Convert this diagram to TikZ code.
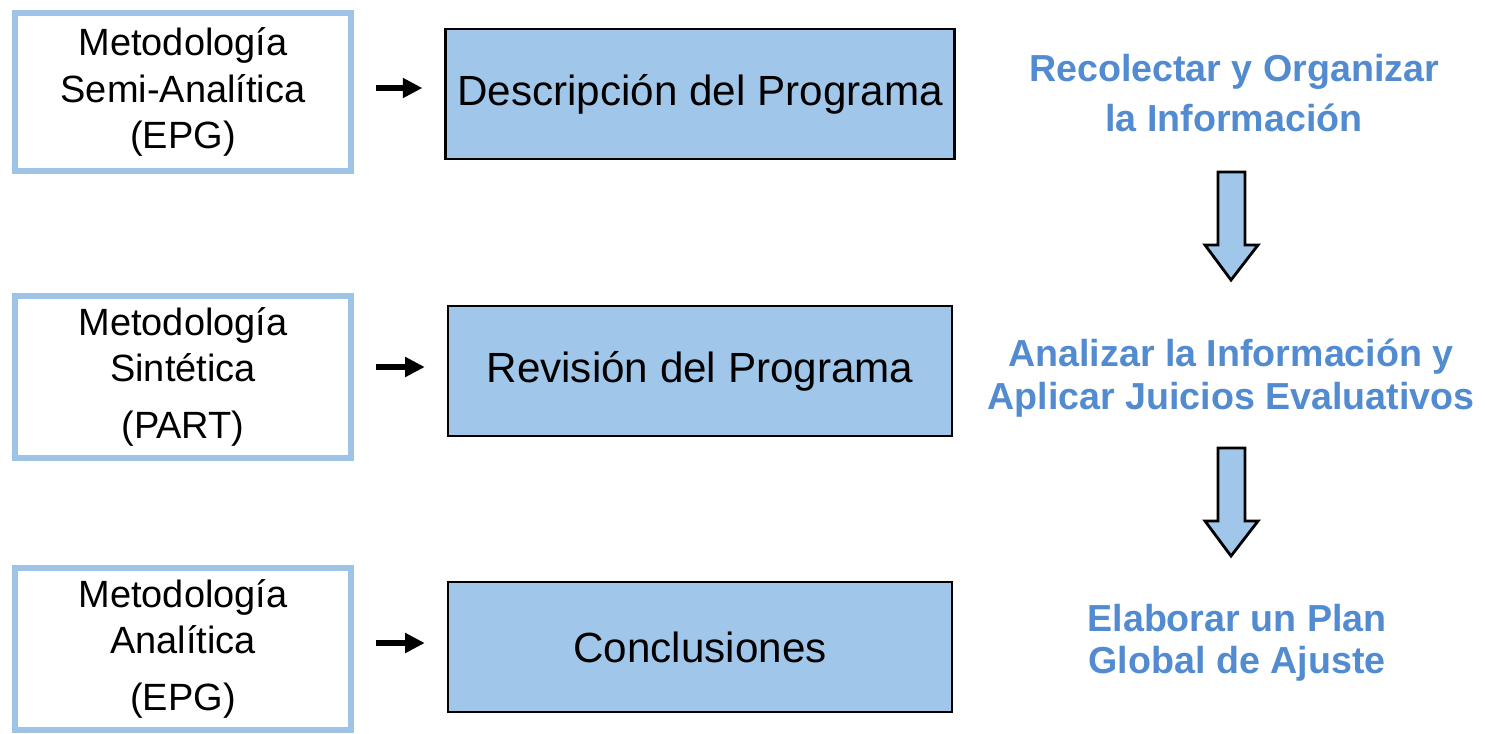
\documentclass[tikz,border=0pt]{standalone}
\usepackage{fontspec}
\setmainfont{Liberation Sans}
\usetikzlibrary{arrows.meta}
\definecolor{hellblau}{RGB}{157,195,230}
\definecolor{kastenblau}{RGB}{160,199,234}
\definecolor{textblau}{RGB}{82,139,208}
\tikzset{
	metodo/.style={draw=hellblau,line width=1.7pt,fill=white,minimum width=3.35cm,minimum height=1.57cm,align=center,font=\fontsize{10.8}{13.2}\selectfont},
	paso/.style={draw=black,line width=0.6pt,fill=kastenblau,minimum width=5.04cm,minimum height=1.30cm,font=\fontsize{12}{14}\selectfont},
	accion/.style={text=textblau,align=center,font=\bfseries\fontsize{10.7}{12}\selectfont},
	pfeil/.style={line width=1.9pt,-{Triangle[length=5.6pt,width=5.4pt]},shorten <=0.22cm,shorten >=0.22cm},
	blockpfeil/.style={draw=black,line width=0.8pt,fill=kastenblau,line join=miter}
}
\begin{document}
\begin{tikzpicture}[x=0.01cm,y=-0.01cm]
	\useasboundingbox (0,0) rectangle (1486,733);
	\node[metodo] (m1) at (183,92) {Metodología\\Semi-Analítica\\(EPG)};%linker Kasten oben
	\node[metodo] (m2) at (183,377) {Metodología\\Sintética\\[3pt](PART)};%linker Kasten Mitte
	\node[metodo] (m3) at (183,649) {Metodología\\Analítica\\[3pt](EPG)};%linker Kasten unten
	\node[paso] (p1) at (700,94) {Descripción del Programa};%Kasten oben
	\node[paso] (p2) at (700,371) {Revisión del Programa};%Kasten Mitte
	\node[paso] (p3) at (700,647) {Conclusiones};%Kasten unten
	\draw[pfeil] (m1.east |- 0,88) -- (p1.west |- 0,88);%Pfeil oben
	\draw[pfeil] (m2.east |- 0,367) -- (p2.west |- 0,367);%Pfeil Mitte
	\draw[pfeil] (m3.east |- 0,643) -- (p3.west |- 0,643);%Pfeil unten
	\node[accion] (a1) at (1234,93) {Recolectar y Organizar\\[2.3pt]la Información};
	\node[accion] (a2) at (1231,378) {Analizar la Información y\\Aplicar Juicios Evaluativos};
	\node[accion] (a3) at (1237,643) {Elaborar un Plan\\Global de Ajuste};
	\draw[blockpfeil] (1218,172) -- (1245,172) -- (1245,245) -- (1258,245) -- (1231,280) -- (1205,245) -- (1218,245) -- cycle;%Blockpfeil oben
	\draw[blockpfeil] (1218,448) -- (1245,448) -- (1245,521) -- (1258,521) -- (1231,556) -- (1205,521) -- (1218,521) -- cycle;%Blockpfeil unten
\end{tikzpicture}
\end{document}
